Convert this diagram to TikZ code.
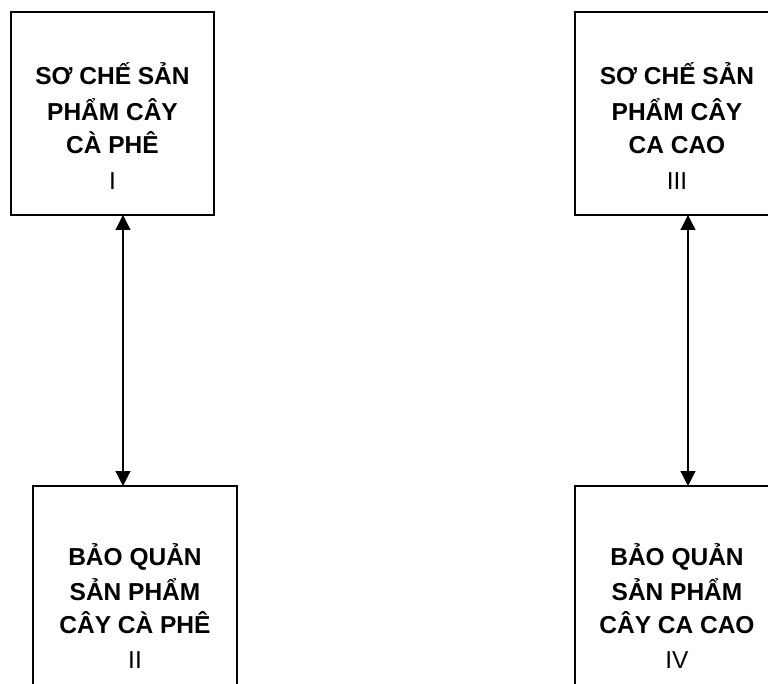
\documentclass[tikz,border=0pt]{standalone}
\usepackage{fontspec}
\setmainfont{Liberation Sans}
\usetikzlibrary{arrows.meta}
\begin{document}
\begin{tikzpicture}[x=1pt,y=-1pt,
  box/.style={draw=black, line width=1.3pt, rectangle, inner sep=0pt, outer sep=0pt},
  lbl/.style={inner sep=0pt, outer sep=0pt, anchor=base, font=\fontsize{24.5}{35}\selectfont},
  arr/.style={line width=1.2pt, {Triangle[length=15pt,width=15pt]}-{Triangle[length=15pt,width=15pt]}}]
\useasboundingbox (0,0) rectangle (768,684);
\clip (0,0) rectangle (768,684);
% boxes
\node[box, minimum width=203pt, minimum height=203pt] (tl) at (112.5,113.5) {};
\node[box, minimum width=203pt, minimum height=203pt] (tr) at (676.5,113.5) {};
\node[box, minimum width=204pt, minimum height=240pt] (bl) at (135,606) {};
\node[box, minimum width=204pt, minimum height=240pt] (br) at (677,606) {};
% texts
\node[lbl] (tlt) at (112.5,85) {\begin{tabular}[t]{@{}c@{}}\textbf{SƠ CHẾ SẢN}\\[1pt]\textbf{PHẨM CÂY}\\[-2pt]\textbf{CÀ PHÊ}\\[1pt]I\end{tabular}};
\node[lbl] (trt) at (677,85) {\begin{tabular}[t]{@{}c@{}}\textbf{SƠ CHẾ SẢN}\\[1pt]\textbf{PHẨM CÂY}\\[-2pt]\textbf{CA CAO}\\[1pt]III\end{tabular}};
\node[lbl] (blt) at (135,565) {\begin{tabular}[t]{@{}c@{}}\textbf{BẢO QUẢN}\\[0pt]\textbf{SẢN PHẨM}\\[-2pt]\textbf{CÂY CÀ PHÊ}\\[0pt]II\end{tabular}};
\node[lbl] (brt) at (677,565) {\begin{tabular}[t]{@{}c@{}}\textbf{BẢO QUẢN}\\[0pt]\textbf{SẢN PHẨM}\\[-2pt]\textbf{CÂY CA CAO}\\[0pt]IV\end{tabular}};
% connectors
\coordinate (ax) at (123,0);
\coordinate (bx) at (688,0);
\draw[arr] (tl.south -| ax) -- (bl.north -| ax);
\draw[arr] (tr.south -| bx) -- (br.north -| bx);
\end{tikzpicture}
\end{document}
